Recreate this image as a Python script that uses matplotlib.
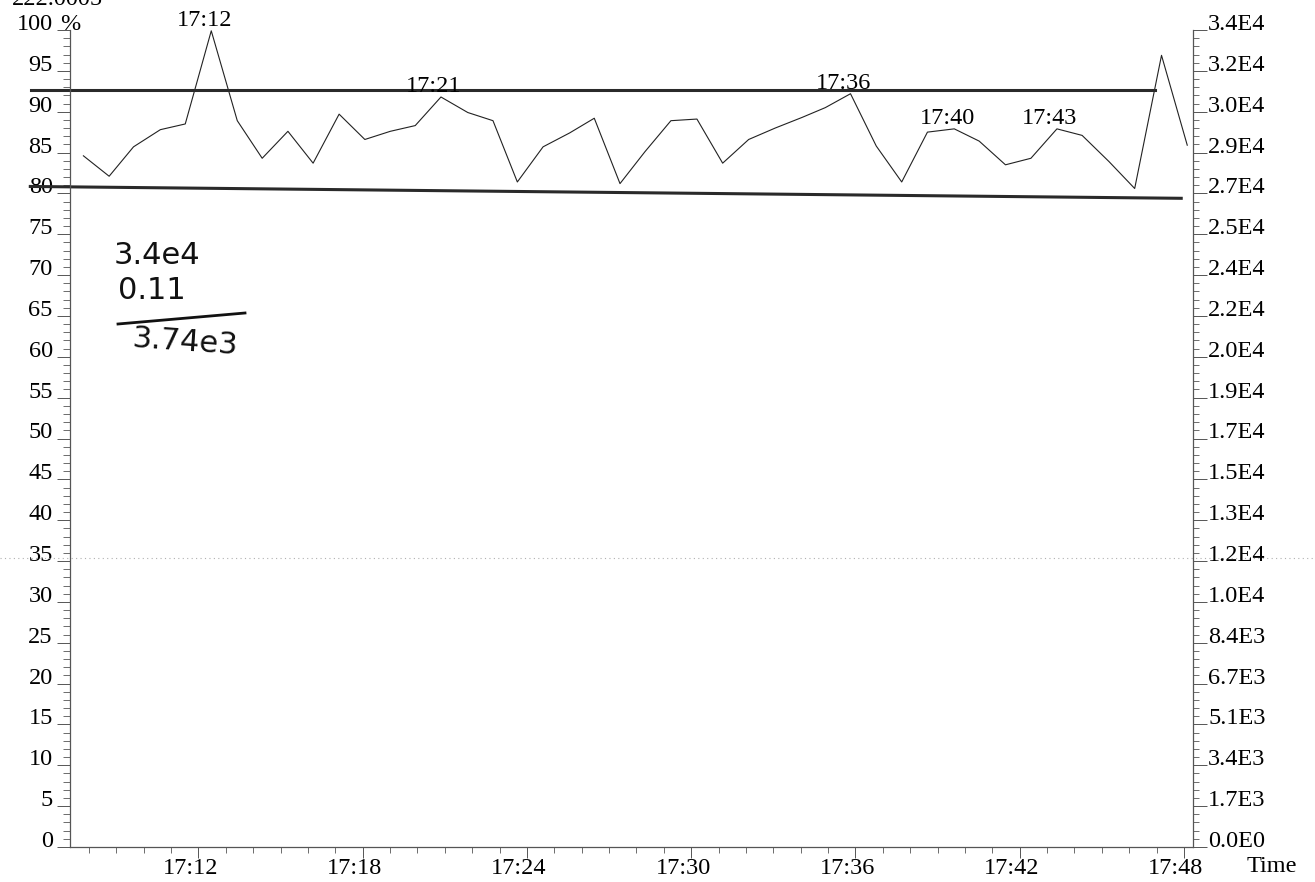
import matplotlib
matplotlib.use("Agg")
import matplotlib.pyplot as plt
import matplotlib.transforms as mtransforms
from matplotlib.ticker import MultipleLocator

plt.rcParams['font.family'] = ['Liberation Serif', 'DejaVu Serif']

# sample times (minutes after 17:00) and signal (% of max)
times = [7.80, 8.74, 9.63, 10.61, 11.52, 12.47, 13.42, 14.33, 15.27, 16.19,
         17.14, 18.08, 19.01, 19.92, 20.86, 21.84, 22.76, 23.65, 24.59, 25.56,
         26.46, 27.40, 28.31, 29.26, 30.21, 31.15, 32.10, 33.07, 34.05, 34.90,
         35.82, 36.76, 37.69, 38.63, 39.61, 40.52, 41.48, 42.41, 43.36, 44.28,
         45.26, 46.20, 47.18, 48.12]
percent = [84.6, 82.1, 85.7, 87.8, 88.5, 99.9, 88.9, 84.3, 87.6, 83.7,
           89.7, 86.6, 87.6, 88.3, 91.8, 89.9, 88.9, 81.4, 85.7, 87.4,
           89.2, 81.2, 85.1, 88.9, 89.1, 83.7, 86.6, 88.0, 89.3, 90.5,
           92.2, 85.8, 81.4, 87.5, 87.9, 86.4, 83.5, 84.3, 87.9, 87.1,
           83.9, 80.6, 96.9, 85.9]

# labelled peaks
peak_idx = [5, 14, 30, 34, 38]
peak_labels = ["17:12", "17:21", "17:36", "17:40", "17:43"]

pct_ticks = list(range(0, 101, 5))
left_labels = ["0", "5", "10", "15", "20", "25", "30", "35", "40", "45", "50",
               "55", "60", "65", "70", "75", "80", "85", "90", "95", "100"]
right_labels = ["0.0E0", "1.7E3", "3.4E3", "5.1E3", "6.7E3", "8.4E3", "1.0E4",
                "1.2E4", "1.3E4", "1.5E4", "1.7E4", "1.9E4", "2.0E4", "2.2E4",
                "2.4E4", "2.5E4", "2.7E4", "2.9E4", "3.0E4", "3.2E4", "3.4E4"]
time_ticks = [12, 18, 24, 30, 36, 42, 48]
time_labels = ["17:12", "17:18", "17:24", "17:30", "17:36", "17:42", "17:48"]

# lines ruled by hand on the printout
upper_rule_t = [5.89, 46.94]
upper_rule_v = [92.65, 92.65]
lower_rule_t = [5.86, 47.90]
lower_rule_v = [80.85, 79.40]
fold_v = 35.4

W, H = 1315, 882
fig = plt.figure(figsize=(W / 100, H / 100), dpi=100)
ax = fig.add_axes([70 / W, 35 / H, 1123 / W, 817 / H])
fs = 17.5

ax.plot(times, percent, color='#222222', lw=0.8)
ax.set_xlim(7.31, 48.33)
ax.set_ylim(0, 100)

for s in ['top', 'right']:
    ax.spines[s].set_visible(False)
for s in ['left', 'bottom']:
    ax.spines[s].set_color('#555555')
    ax.spines[s].set_linewidth(0.9)

ax.set_yticks(pct_ticks, left_labels, va='baseline')
ax.yaxis.set_minor_locator(MultipleLocator(1))
ax.tick_params(axis='y', which='major', length=9.4, width=0.7, pad=3,
               labelsize=fs, color='#555555')
ax.tick_params(axis='y', which='minor', length=5, width=0.6, color='#555555')

ax.set_xticks(time_ticks, time_labels)
ax.xaxis.set_minor_locator(MultipleLocator(1))
ax.tick_params(axis='x', which='major', length=8, width=0.7, pad=0,
               labelsize=fs, color='#555555')
ax.tick_params(axis='x', which='minor', length=4.3, width=0.6, color='#555555')
shift = mtransforms.ScaledTranslation(-8 / 100, 0, fig.dpi_scale_trans)
for lbl in ax.get_xticklabels():
    lbl.set_transform(lbl.get_transform() + shift)

ax2 = ax.twinx()
ax2.set_ylim(0, 100)
for s in ['top', 'left', 'bottom']:
    ax2.spines[s].set_visible(False)
ax2.spines['right'].set_color('#555555')
ax2.spines['right'].set_linewidth(0.9)
ax2.set_yticks(pct_ticks, right_labels, va='baseline')
ax2.yaxis.set_minor_locator(MultipleLocator(1))
ax2.tick_params(axis='y', which='major', length=10, width=0.7, pad=1,
                labelsize=fs, color='#555555')
ax2.tick_params(axis='y', which='minor', length=4, width=0.6, color='#555555')

# peak time labels
for i, lbl in zip(peak_idx, peak_labels):
    ax.annotate(lbl, (times[i], percent[i]), xytext=(-5, 3.5),
                textcoords='offset points', ha='center', va='baseline',
                fontsize=fs)

ax.text(0, 100, '%', transform=ax.get_yaxis_transform(), ha='center',
        va='baseline', fontsize=fs)

# ruled lines and fold mark
ax.plot(upper_rule_t, upper_rule_v, color='#2a2a2a', lw=2.2, clip_on=False)
ax.plot(lower_rule_t, lower_rule_v, color='#2a2a2a', lw=2.2, clip_on=False)
fold = mtransforms.blended_transform_factory(fig.transFigure, ax.transData)
ax.plot([0, 1], [fold_v, fold_v], transform=fold, ls=(0, (1, 3)),
        color='#b0b0b0', lw=0.8, clip_on=False)

fig.text(12 / W, 1 - 5 / H, '222.0005', ha='left', va='baseline', fontsize=fs)
fig.text(1272 / W, 1 - 872 / H, 'Time', ha='center', va='baseline', fontsize=fs)

# handwritten note
hand = dict(family='DejaVu Sans', fontsize=22, color='#111111', ha='center',
            va='center')
fig.text(157 / W, 1 - 255 / H, '3.4e4', **hand)
fig.text(152 / W, 1 - 290 / H, '0.11', **hand)
fig.add_artist(plt.Line2D([118 / W, 245 / W], [1 - 324 / H, 1 - 313 / H],
                          color='#111111', lw=2))
fig.text(185 / W, 1 - 342 / H, '3.74e3', rotation=-4, **hand)

fig.savefig('out.png', dpi=100)
